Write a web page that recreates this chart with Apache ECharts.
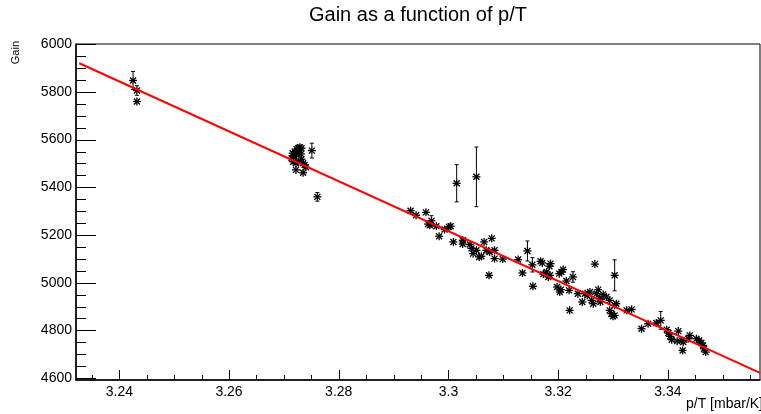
<!DOCTYPE html>
<html>
<head>
<meta charset="utf-8">
<script src="https://cdn.jsdelivr.net/npm/echarts@6/dist/echarts.min.js"></script>
<style>
  html, body { margin: 0; padding: 0; background: #fff; }
  #chart { width: 761px; height: 414px; }
</style>
</head>
<body>
<div id="chart"></div>
<script>
// Measured gain versus pressure/temperature ratio
const pT = [
  3.2425, 3.2432, 3.2432,
  3.2714, 3.2716, 3.2717, 3.2718, 3.2720, 3.2722, 3.2722, 3.2723, 3.2723, 3.2726, 3.2726,
  3.2728, 3.2729, 3.2731, 3.2732, 3.2732, 3.2735, 3.2735, 3.2738, 3.2740, 3.2751, 3.2761,
  3.2931, 3.2941, 3.2959, 3.2963, 3.2966, 3.2969, 3.2978, 3.2983, 3.2993, 3.3001, 3.3004,
  3.3009, 3.3015, 3.3026, 3.3026, 3.3039, 3.3042, 3.3045, 3.3051, 3.3051, 3.3056, 3.3060,
  3.3065, 3.3069, 3.3074, 3.3075, 3.3079, 3.3084, 3.3084, 3.3099,
  3.3127, 3.3135, 3.3144, 3.3153, 3.3154, 3.3168, 3.3171, 3.3173, 3.3179, 3.3182, 3.3184,
  3.3185, 3.3186, 3.3198, 3.3202, 3.3203, 3.3205, 3.3206, 3.3209, 3.3215, 3.3220, 3.3221,
  3.3227, 3.3236, 3.3244, 3.3249, 3.3253, 3.3258, 3.3261, 3.3264, 3.3267, 3.3270, 3.3273,
  3.3276, 3.3277, 3.3282, 3.3288, 3.3294, 3.3294, 3.3297, 3.3300, 3.3303, 3.3303, 3.3303,
  3.3306, 3.3325, 3.3334,
  3.3352, 3.3364, 3.3379, 3.3387, 3.3398, 3.3401, 3.3404, 3.3407, 3.3417, 3.3419, 3.3425,
  3.3427, 3.3428, 3.3437, 3.3440, 3.3452, 3.3457, 3.3461, 3.3464, 3.3466, 3.3469
];
const gain = [
  5848, 5806, 5760,
  5522, 5543, 5507, 5531, 5549, 5501, 5473, 5560, 5536, 5564, 5507,
  5545, 5568, 5540, 5564, 5518, 5501, 5461, 5494, 5484, 5554, 5360,
  5302, 5283, 5295, 5246, 5241, 5260, 5237, 5195, 5223, 5234, 5237,
  5171, 5417, 5178, 5162, 5160, 5144, 5122, 5444, 5136, 5108, 5111,
  5171, 5136, 5031, 5129, 5186, 5136, 5101, 5099,
  5097, 5041, 5133, 5075, 4985, 5090, 5083, 5036, 5045, 5024, 5069,
  5031, 5080, 4982, 5038, 4961, 4971, 5045, 5055, 5007, 4968, 4884,
  5024, 4954, 4919, 4954, 4947, 4961, 4926, 4912, 5078, 4954, 4971,
  4933, 4919, 4951, 4940, 4926, 4884, 4870, 4859, 5031, 4905, 4863,
  4912, 4884, 4888,
  4807, 4828, 4831, 4842, 4803, 4789, 4775, 4761, 4755, 4797, 4758,
  4716, 4751, 4765, 4779, 4765, 4758, 4747, 4737, 4723, 4709
];
const gainErr = [
  38, 20, 10,
  10, 16, 10, 10, 10, 10, 10, 10, 10, 10, 10,
  10, 10, 10, 10, 10, 10, 10, 10, 10, 31, 18,
  10, 10, 10, 10, 10, 21, 10, 10, 10, 10, 10,
  10, 78, 10, 10, 10, 10, 10, 125, 10, 10, 10,
  10, 10, 10, 10, 10, 10, 10, 10,
  10, 10, 42, 30, 10, 10, 10, 10, 10, 10, 10,
  10, 10, 10, 10, 10, 10, 10, 10, 10, 10, 10,
  22, 10, 10, 10, 10, 10, 10, 10, 10, 10, 10,
  10, 10, 10, 10, 10, 10, 10, 10, 65, 10, 10,
  10, 10, 10,
  10, 10, 10, 37, 10, 10, 10, 10, 10, 10, 10,
  10, 10, 10, 10, 10, 10, 10, 10, 10, 10
];

// Linear fit: Gain = p0 + p1 * (p/T)
const fitParams = [39731, -10459];
const fitRange = [3.2327, 3.3568];

// Axis ranges and tick positions
const xRange = [3.2321, 3.3568];
const yRange = [4592, 6001];
const xMajorTicks = [3.24, 3.26, 3.28, 3.3, 3.32, 3.34];
const xMinorTicks = [3.235, 3.245, 3.25, 3.255, 3.265, 3.27, 3.275, 3.285, 3.29, 3.295,
                     3.305, 3.31, 3.315, 3.325, 3.33, 3.335, 3.345, 3.35, 3.355];
const yMajorTicks = [4600, 4800, 5000, 5200, 5400, 5600, 5800, 6000];
const yMinorTicks = [4650, 4700, 4750, 4850, 4900, 4950, 5050, 5100, 5150, 5250, 5300, 5350,
                     5450, 5500, 5550, 5650, 5700, 5750, 5850, 5900, 5950];

const FONT = '"Liberation Sans", Arial, Helvetica, sans-serif';

const points = pT.map((x, i) => [x, gain[i], gainErr[i]]);
const fitLine = fitRange.map(x => [x, fitParams[0] + fitParams[1] * x]);

function seg(x1, y1, x2, y2, w) {
  return {
    type: 'line',
    shape: { x1, y1, x2, y2 },
    style: { stroke: '#000', lineWidth: w }
  };
}

// Asterisk marker with vertical error bar and end caps
function renderPoint(params, api) {
  const x = api.value(0), y = api.value(1), e = api.value(2);
  const c = api.coord([x, y]);
  const hi = api.coord([x, y + e]);
  const lo = api.coord([x, y - e]);
  const r = 4, d = 3;
  const kids = [
    seg(c[0] - r, c[1], c[0] + r, c[1], 1.3),
    seg(c[0], c[1] - r, c[0], c[1] + r, 1.3),
    seg(c[0] - d, c[1] - d, c[0] + d, c[1] + d, 1.3),
    seg(c[0] - d, c[1] + d, c[0] + d, c[1] - d, 1.3)
  ];
  if (lo[1] - c[1] > r) {
    kids.push(seg(c[0], hi[1], c[0], c[1] - r, 1));
    kids.push(seg(c[0], c[1] + r, c[0], lo[1], 1));
    kids.push(seg(c[0] - 2, hi[1], c[0] + 2, hi[1], 1));
    kids.push(seg(c[0] - 2, lo[1], c[0] + 2, lo[1], 1));
  }
  return { type: 'group', children: kids };
}

// Inward tick marks placed through the axis scales
function tickSeries(values, dir, len) {
  return {
    type: 'custom',
    silent: true,
    clip: false,
    z: 4,
    data: values.map(v => (dir === 'x' ? [v, yRange[0]] : [xRange[0], v])),
    renderItem(params, api) {
      const p = api.coord([api.value(0), api.value(1)]);
      const shape = dir === 'x'
        ? { x1: Math.round(p[0]) + 0.5, y1: p[1], x2: Math.round(p[0]) + 0.5, y2: p[1] - len }
        : { x1: p[0], y1: Math.round(p[1]) + 0.5, x2: p[0] + len, y2: Math.round(p[1]) + 0.5 };
      return { type: 'line', shape, style: { stroke: '#000', lineWidth: 1 } };
    }
  };
}

const chart = echarts.init(document.getElementById('chart'), null, { renderer: 'canvas' });

chart.setOption({
  animation: false,
  backgroundColor: '#fff',
  title: {
    text: 'Gain as a function of p/T',
    left: 309,
    top: 5,
    padding: 0,
    textStyle: { fontFamily: FONT, fontSize: 20, fontWeight: 'normal', color: '#000' }
  },
  grid: {
    left: 76, top: 44, width: 684, height: 336,
    show: true, borderColor: '#000', borderWidth: 1, backgroundColor: 'transparent'
  },
  xAxis: {
    type: 'value', min: xRange[0], max: xRange[1], position: 'bottom',
    axisLine: { show: true, lineStyle: { color: '#000', width: 1.5 } },
    axisTick: { show: false },
    axisLabel: { customValues: xMajorTicks, margin: 5, fontFamily: FONT, fontSize: 14,
                 color: '#000', formatter: v => String(v) },
    splitLine: { show: false }
  },
  yAxis: {
    type: 'value', min: yRange[0], max: yRange[1], position: 'left',
    axisLine: { show: true, lineStyle: { color: '#000', width: 1.5 } },
    axisTick: { show: false },
    axisLabel: { customValues: yMajorTicks, margin: 4, fontFamily: FONT, fontSize: 14,
                 color: '#000', formatter: v => String(v) },
    splitLine: { show: false }
  },
  graphic: [
    {
      type: 'text', x: 16, y: 41, rotation: Math.PI / 2,
      style: { text: 'Gain', fontFamily: FONT, fontSize: 11, fill: '#000',
               align: 'right', verticalAlign: 'middle' }
    },
    {
      type: 'text', x: 763, y: 404,
      style: { text: 'p/T [mbar/K]', fontFamily: FONT, fontSize: 14, fill: '#000',
               align: 'right', verticalAlign: 'middle' }
    }
  ],
  series: [
    {
      type: 'custom',
      data: points,
      renderItem: renderPoint,
      clip: true,
      z: 2
    },
    {
      type: 'line',
      data: fitLine,
      showSymbol: false,
      symbol: 'none',
      clip: true,
      lineStyle: { color: '#ff0000', width: 2 },
      z: 3
    },
    tickSeries(xMajorTicks, 'x', 10),
    tickSeries(xMinorTicks, 'x', 5),
    tickSeries(yMajorTicks, 'y', 20),
    tickSeries(yMinorTicks, 'y', 10)
  ]
});
</script>
</body>
</html>
